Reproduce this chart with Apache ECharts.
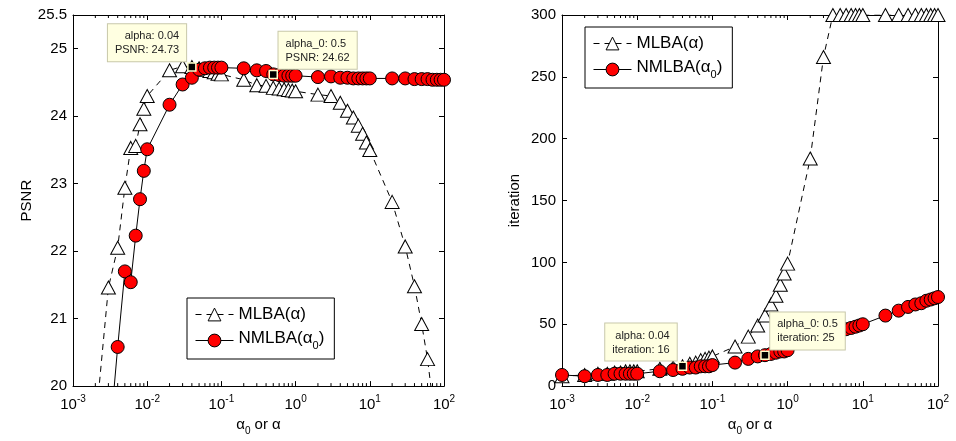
<!DOCTYPE html>
<html><head><meta charset="utf-8">
<script src="https://cdn.jsdelivr.net/npm/echarts@6/dist/echarts.min.js"></script>
<style>html,body{margin:0;padding:0;background:#fff}#c{width:956px;height:441px}</style>
</head><body><div id="c"></div>
<script>
// ---- data ----
const alpha = [0.001,0.002,0.003,0.004,0.005,0.006,0.007,0.008,0.009,
  0.01,0.02,0.03,0.04,0.05,0.06,0.07,0.08,0.09,
  0.1,0.2,0.3,0.4,0.5,0.6,0.7,0.8,0.9,
  1,2,3,4,5,6,7,8,9,
  10,20,30,40,50,60,70,80,90,100];
const psnrMLBA = [null,19.4,21.46,22.05,22.94,23.53,23.56,23.88,24.11,
  24.30,24.68,24.74,24.73,24.71,24.69,24.67,24.65,24.63,
  24.62,24.54,24.46,24.45,24.42,24.41,24.40,24.39,24.38,
  24.37,24.32,24.30,24.20,24.08,23.98,23.86,23.74,23.61,
  23.50,22.73,22.07,21.48,20.92,20.40,19.8,null,null,null];
const psnrNMLBA = [null,null,19.0,20.58,21.70,21.54,22.23,22.77,23.19,
  23.51,24.17,24.47,24.57,24.69,24.71,24.72,24.72,24.72,
  24.72,24.71,24.68,24.67,24.62,24.61,24.60,24.60,24.60,
  24.60,24.58,24.59,24.57,24.57,24.56,24.56,24.56,24.56,
  24.56,24.56,24.56,24.55,24.55,24.55,24.54,24.54,24.54,24.54];
const iterMLBA = [8,9,10,10,11,11,12,12,12,
  12,14,15,16,18,19,21,22,23,
  24,32,40,49,57,66,73,82,91,
  99,184,266,300,300,300,300,300,300,
  300,300,300,300,300,300,300,300,300,300];
const iterNMLBA = [9,8,9,9,10,10,10,10,10,
  10,12,13,14,15,15,16,16,16,
  17,19,22,24,25,26,27,28,28,
  29,36,40,43,45,46,47,48,49,
  50,57,61,64,66,67,69,70,71,72];
const seriesNames = ['MLBA(α)','NMLBA(α0)'];
const psnrTicks = {min:20, max:25.5, interval:1};
const iterTicks = {min:0, max:300, interval:50};
const xRange = {min:0.001, max:100};
const decades = [0.001,0.01,0.1,1,10];
const minorMult = [2,3,4,5,6,7,8,9];
// data tips: [grid, series, alpha value]
const tips = [
  {g:0, s:0, a:0.04, xl:'alpha', yl:'PSNR', side:'left'},
  {g:0, s:1, a:0.5, xl:'alpha_0', yl:'PSNR', side:'right'},
  {g:1, s:0, a:0.04, xl:'alpha', yl:'iteration', side:'left'},
  {g:1, s:1, a:0.5, xl:'alpha_0', yl:'iteration', side:'right'}
];

// ---- chart ----
const FONT = 'Liberation Sans';
const minorTicks = [];
decades.forEach(d => minorMult.forEach(m => minorTicks.push(+(m*d).toPrecision(3))));

function pairs(ys){ const out=[]; alpha.forEach((a,i)=>{ if(ys[i]!==null) out.push([a,ys[i]]); }); return out; }

const xLabel = {
  fontFamily: FONT, color:'#000', margin: 8,
  formatter: v => '{b|10}{s|' + Math.round(Math.log10(v)) + '}',
  rich: {
    b:{fontFamily:FONT, fontSize:15, color:'#000', verticalAlign:'bottom'},
    s:{fontFamily:FONT, fontSize:10, color:'#000', verticalAlign:'bottom', padding:[0,0,8,0]}
  }
};
function xAxes(g){
  return [{
    type:'log', logBase:10, gridIndex:g, min:xRange.min, max:xRange.max, position:'bottom',
    axisLine:{onZero:false, lineStyle:{color:'#000', width:1}},
    axisTick:{inside:true, length:5, lineStyle:{color:'#000'}},
    axisLabel: xLabel, splitLine:{show:false},
    name:'{a|α}{sub|0}{a| or α}', nameLocation:'middle', nameGap:30,
    nameTextStyle:{rich:{
      a:{fontFamily:FONT, fontSize:15, color:'#000', verticalAlign:'top'},
      sub:{fontFamily:FONT, fontSize:10, color:'#000', verticalAlign:'top', padding:[9,0,0,0]}
    }}
  },{
    type:'log', logBase:10, gridIndex:g, min:xRange.min, max:xRange.max, position:'top',
    axisLine:{onZero:false, lineStyle:{color:'#000', width:1}},
    axisTick:{inside:true, length:5, lineStyle:{color:'#000'}},
    axisLabel:{show:false}, splitLine:{show:false}
  }];
}
function yAxes(g, t, name, gap){
  return [{
    type:'value', gridIndex:g, min:t.min, max:t.max, interval:t.interval, position:'left',
    axisLine:{show:true, onZero:false, lineStyle:{color:'#000', width:1}},
    axisTick:{show:true, inside:true, length:5, lineStyle:{color:'#000'}},
    axisLabel:{fontFamily:FONT, fontSize:15, color:'#000', margin:6},
    splitLine:{show:false},
    name:name, nameLocation:'middle', nameGap:gap,
    nameTextStyle:{fontFamily:FONT, fontSize:15, color:'#000'}
  },{
    type:'value', gridIndex:g, min:t.min, max:t.max, interval:t.interval, position:'right',
    axisLine:{show:true, onZero:false, lineStyle:{color:'#000', width:1}},
    axisTick:{show:true, inside:true, length:5, lineStyle:{color:'#000'}},
    axisLabel:{show:false}, splitLine:{show:false}
  }];
}

const mlbaStyle = {
  type:'line', symbol:'triangle', symbolSize:[14,13], showAllSymbol:true,
  lineStyle:{color:'#000', width:1, type:[6,5]},
  itemStyle:{color:'#fff', borderColor:'#000', borderWidth:1},
  clip:true, silent:true
};
const nmlbaStyle = {
  type:'line', symbol:'circle', symbolSize:13, showAllSymbol:true,
  lineStyle:{color:'#000', width:1, type:'solid'},
  itemStyle:{color:'#ff0000', borderColor:'#000', borderWidth:1},
  clip:true, silent:true
};

const ySets = [[psnrMLBA, psnrNMLBA],[iterMLBA, iterNMLBA]];
const yTicks = [psnrTicks, iterTicks];
function tipMarker(g, s){
  const list = tips.filter(t => t.g===g && t.s===s);
  return {
    symbol:'rect', symbolSize:8, silent:true,
    itemStyle:{color:'#000', borderColor:'#ffffcc', borderWidth:1.5},
    data: list.map(t => {
      const i = alpha.indexOf(t.a);
      const v = ySets[g][s][i];
      const left = t.side==='left';
      return {
        coord:[t.a, v],
        label:{
          show:true,
          formatter: t.xl + ': ' + t.a + '\n' + t.yl + ': ' + v,
          position: left ? [-1,-1] : [10,-1],
          align: left ? 'right' : 'left', verticalAlign:'bottom',
          fontFamily:FONT, fontSize:11, lineHeight:14, color:'#222',
          backgroundColor:'#ffffe1', borderColor:'#c8c8aa', borderWidth:1,
          padding:[5,7,4,7]
        }
      };
    })
  };
}

function minorTickSeries(g){
  const t = yTicks[g];
  return {
    type:'custom', xAxisIndex:g*2, yAxisIndex:g*2, silent:true, clip:false, z:3,
    data: minorTicks.map(v => [v, t.min]),
    renderItem:(params, api) => {
      const v = api.value(0);
      const yb = api.coord([v, t.min]);
      const yt = api.coord([v, t.max]);
      return {type:'group', children:[
        {type:'line', shape:{x1:yb[0], y1:yb[1], x2:yb[0], y2:yb[1]-3}, style:{stroke:'#000', lineWidth:1}},
        {type:'line', shape:{x1:yt[0], y1:yt[1], x2:yt[0], y2:yt[1]+3}, style:{stroke:'#000', lineWidth:1}}
      ]};
    }
  };
}

const legendCommon = {
  orient:'vertical', borderColor:'#000', borderWidth:1, padding:[8,10,8,8],
  itemGap:7, itemWidth:38, itemHeight:16, backgroundColor:'#fff',
  data:seriesNames, selectedMode:false,
  lineStyle:{width:1},
  itemStyle:{borderWidth:1},
  formatter: n => n==='NMLBA(α0)' ? '{n|NMLBA(α}{s|0}{n|)}' : '{n|' + n + '}',
  textStyle:{fontFamily:FONT, fontSize:17, color:'#000', rich:{
    n:{fontFamily:FONT, fontSize:17, color:'#000', verticalAlign:'top'},
    s:{fontFamily:FONT, fontSize:11, color:'#000', verticalAlign:'top', padding:[10,0,0,0]}
  }}
};

const option = {
  animation:false,
  backgroundColor:'#fff',
  grid:[
    {left:73, top:15, width:371, height:373},
    {left:562, top:15, width:376, height:373}
  ],
  xAxis:[...xAxes(0), ...xAxes(1)],
  yAxis:[...yAxes(0, psnrTicks, 'PSNR', 35), ...yAxes(1, iterTicks, 'iteration', 40)],
  legend:[
    Object.assign({left:187, top:298}, legendCommon),
    Object.assign({left:585, top:27}, legendCommon)
  ],
  series:[
    Object.assign({name:seriesNames[0], xAxisIndex:0, yAxisIndex:0, data:pairs(psnrMLBA), markPoint:tipMarker(0,0)}, mlbaStyle),
    Object.assign({name:seriesNames[1], xAxisIndex:0, yAxisIndex:0, data:pairs(psnrNMLBA), markPoint:tipMarker(0,1)}, nmlbaStyle),
    Object.assign({name:seriesNames[0], xAxisIndex:2, yAxisIndex:2, data:pairs(iterMLBA), markPoint:tipMarker(1,0)}, mlbaStyle),
    Object.assign({name:seriesNames[1], xAxisIndex:2, yAxisIndex:2, data:pairs(iterNMLBA), markPoint:tipMarker(1,1)}, nmlbaStyle),
    minorTickSeries(0),
    minorTickSeries(1)
  ]
};
const chart = echarts.init(document.getElementById('c'), null, {renderer:'canvas'});
chart.setOption(option);
</script></body></html>
